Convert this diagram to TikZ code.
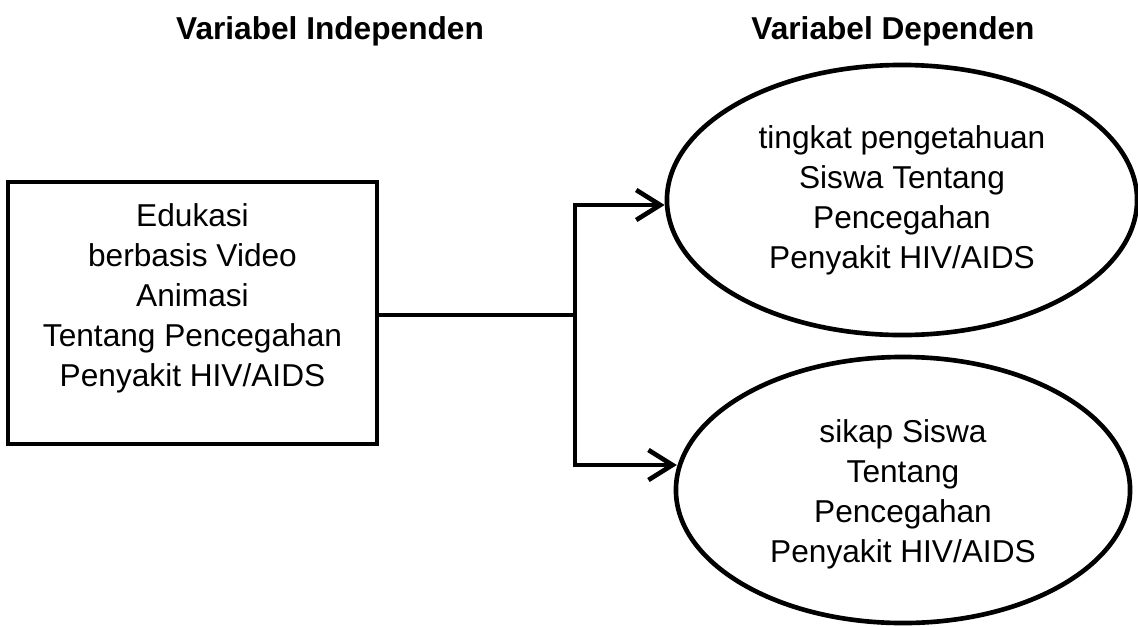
\documentclass[tikz,border=0pt]{standalone}
\usepackage{fontspec}
\setmainfont{Liberation Sans}
\usetikzlibrary{shapes.geometric, arrows.meta}

\begin{document}
\begin{tikzpicture}[x=0.025cm, y=-0.025cm,
    txt/.style={align=center, font=\fontsize{22.5}{28.5}\selectfont},
    title/.style={font=\fontsize{22.5}{28.5}\selectfont\bfseries},
    box/.style={draw, line width=3.3pt, minimum width=9.225cm, minimum height=6.55cm, inner sep=0pt},
    oval/.style={draw, ellipse, line width=3.3pt, inner sep=0pt},
    arr/.style={line width=3.3pt, -{Straight Barb[length=0.6cm, width=0.75cm, line width=3.3pt]}}]
    \useasboundingbox (0, 0) rectangle (1138, 626);

    % Headings
    \node[title] (indep) at (330, 31) {Variabel Independen};
    \node[title] (dep) at (893, 31) {Variabel Dependen};

    % Independent variable
    \node[box] (edu) at (192.5, 313) {};
    \node[txt] (edutext) at (192.5, 298) {Edukasi\\berbasis Video\\Animasi\\Tentang Pencegahan\\Penyakit HIV/AIDS};

    % Dependent variables
    \node[oval, minimum width=11.75cm, minimum height=6.75cm] (know) at (902, 200) {};
    \node[txt] (knowtext) at (902, 200) {tingkat pengetahuan\\Siswa Tentang\\Pencegahan\\Penyakit HIV/AIDS};
    \node[oval, minimum width=11.35cm, minimum height=6.65cm] (att) at (903, 490) {};
    \node[txt] (atttext) at (903, 494) {sikap Siswa\\Tentang\\Pencegahan\\Penyakit HIV/AIDS};

    % Branching connector
    \coordinate (split) at (575, 315);
    \coordinate (upper) at (575, 205);
    \coordinate (lower) at (575, 465);
    \draw[line width=3.3pt] (edu.east |- split) -- (split);
    \draw[line width=3.3pt, line cap=rect] (upper) -- (lower);
    \draw[arr] (upper) -- (upper -| know.west);
    \draw[arr] (lower) -- ([xshift=0.08cm]lower -| att.west);
\end{tikzpicture}
\end{document}
